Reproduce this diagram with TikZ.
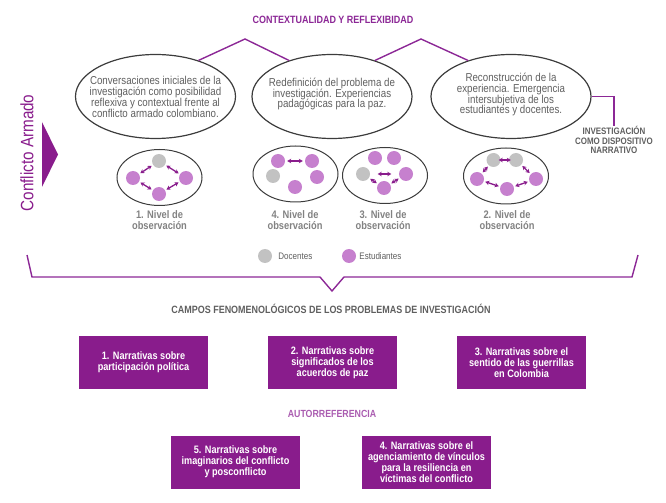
\documentclass[tikz,border=0pt]{standalone}
\usepackage{fontspec}
\setmainfont{Liberation Sans}[FakeStretch=0.85]
\usepackage{tikz}
\usetikzlibrary{shapes,arrows.meta,positioning}
\definecolor{morado}{RGB}{137,28,140}
\definecolor{enlace}{RGB}{140,40,150}
\definecolor{lila}{RGB}{198,128,206}
\definecolor{gris}{RGB}{194,194,194}
\definecolor{borde}{RGB}{60,60,60}
\definecolor{grisosc}{RGB}{95,95,95}
\definecolor{grisniv}{RGB}{130,130,130}
\definecolor{autorref}{RGB}{170,92,176}
\tikzset{every node/.style={inner sep=0pt},
  burbuja/.style={ellipse,draw=borde,line width=1.2bp,minimum width=160bp,minimum height=84bp},
  texto/.style={text=grisosc,align=center,font=\fontsize{11.5}{11}\selectfont},
  nivel/.style={ellipse,draw=borde,line width=1bp,minimum width=85bp,minimum height=56bp},
  etiq/.style={text=grisniv,align=center,font=\bfseries\fontsize{11}{11}\selectfont},
  doc/.style={circle,fill=gris,minimum size=14bp},
  est/.style={circle,fill=lila,minimum size=14bp},
  flecha/.style={{Stealth[length=4bp,width=4.5bp]}-{Stealth[length=4bp,width=4.5bp]},morado,line width=1.3bp,shorten <=1.5bp,shorten >=1.5bp},
  enl/.style={draw=enlace,line width=1.4bp},
  caja/.style={fill=morado,text=white,minimum width=129bp,minimum height=53bp,align=center,font=\bfseries\fontsize{10.8}{11}\selectfont},
  leyenda/.style={text=grisosc,font=\fontsize{9.5}{10}\selectfont}}
\begin{document}
\begin{tikzpicture}[x=1bp,y=-1bp]
    \useasboundingbox (0,0) rectangle (666,503);
    \node[text=enlace,font=\bfseries\fontsize{10.6}{11}\selectfont] (ctx) at (333,20) {CONTEXTUALIDAD Y REFLEXIBIDAD};
    % fases
    \node[burbuja] (e1) at (155.5,96.5) {};
    \node[burbuja] (e2) at (332,96.5) {};
    \node[burbuja] (e3) at (511,96.5) {};
    \node[texto] (t1) at (e1) {Conversaciones iniciales de la\\investigación como posibilidad\\reflexiva y contextual frente al\\conflicto armado colombiano.};
    \node[texto] (t2) at (332,94) {Redefinición del problema de\\investigación. Experiencias\\padagógicas para la paz.};
    \node[texto] (t3) at (511,94.5) {Reconstrucción de la\\experiencia. Emergencia\\intersubjetiva de los\\estudiantes y docentes.};
    \coordinate (p1) at (245,39);
    \coordinate (p2) at (421,39);
    \draw[enl] (e1.40) -- (p1) -- (e2.140);
    \draw[enl] (e2.40) -- (p2) -- (e3.140);
    \node[text=grisosc,align=center,font=\bfseries\fontsize{9.4}{9.8}\selectfont] (nar) at (614,140) {INVESTIGACIÓN\\COMO DISPOSITIVO\\NARRATIVO};
    \draw[enl] (e3.east) -| (nar.north);
    % conflicto armado
    \node[rotate=90,text=morado,font=\fontsize{18}{18}\selectfont] (ca) at (27,153) {Conflicto Armado};
    \fill[morado] (42,122) -- (58,154.5) -- (42,187) -- cycle;
    % niveles de observacion
    \node[nivel] (o1) at (159.5,177.5) {};
    \node[nivel] (o4) at (295.5,174) {};
    \node[nivel] (o3) at (385,175.5) {};
    \node[nivel] (o2) at (506,176) {};
    \node[etiq,below=4bp of o1] (n1) {1. Nivel de\\observación};
    \node[etiq] (n4) at (295,220.5) {4. Nivel de\\observación};
    \node[etiq] (n3) at (383,220.5) {3. Nivel de\\observación};
    \node[etiq] (n2) at (507,220.5) {2. Nivel de\\observación};
    \node[doc] (a1) at (159,161) {};
    \node[est] (a2) at (133,178) {};
    \node[est] (a3) at (186,178) {};
    \node[est] (a4) at (159,194) {};
    \node[est] (b1) at (278,161) {};
    \node[est] (b2) at (312,161) {};
    \node[doc] (b3) at (273,176) {};
    \node[est] (b4) at (317,177) {};
    \node[est] (b5) at (295,187) {};
    \node[est] (c1) at (375,158) {};
    \node[est] (c2) at (394,158) {};
    \node[doc] (c3) at (363,174) {};
    \node[est] (c4) at (406,174) {};
    \node[est] (c5) at (384,188) {};
    \node[doc] (d1) at (493.5,160) {};
    \node[doc] (d2) at (516,160) {};
    \node[est] (d3) at (477,179) {};
    \node[est] (d4) at (536,179) {};
    \node[est] (d5) at (507,189) {};
    \path[flecha]
    (a2) edge (a1)
    (a1) edge (a3)
    (a2) edge (a4)
    (a4) edge (a3)
    (b1) edge[shorten <=2bp,shorten >=2bp] (b2)
    (c3) edge[shorten <=7.5bp,shorten >=7.5bp] (c4)
    (c3) edge (c5)
    (c5) edge (c4)
    (d1) edge[shorten <=-2bp,shorten >=-2bp] (d2)
    (d3) edge (d1)
    (d2) edge (d4)
    (d3) edge (d5)
    (d5) edge (d4)
    ;
    % leyenda
    \node[doc] (ld) at (265,256) {};
    \node[leyenda,right=6bp of ld] (ldt) {Docentes};
    \node[est] (le) at (349,256) {};
    \node[leyenda,right=3bp of le] (let) {Estudiantes};
    \draw[enl] (27,255) -- (32,277) -- (320,277) -- (332,291) -- (344,277) -- (632,277) -- (638,255);
    % campos
    \node[text=grisosc,font=\bfseries\fontsize{10.6}{11}\selectfont] (cf) at (331,309) {CAMPOS FENOMENOLÓGICOS DE LOS PROBLEMAS DE INVESTIGACIÓN};
    \node[caja] (k1) at (143.5,362.5) {1. Narrativas sobre\\participación política};
    \node[caja] (k2) at (332.5,362.5) {2. Narrativas sobre\\significados de los\\acuerdos de paz};
    \node[caja] (k3) at (521.5,362.5) {3. Narrativas sobre el\\sentido de las guerrillas\\en Colombia};
    \node[text=autorref,font=\bfseries\fontsize{10.4}{11}\selectfont] (ar) at (332,414) {AUTORREFERENCIA};
    \node[caja] (k5) at (235.5,462) {5. Narrativas sobre\\imaginarios del conflicto\\y posconflicto};
    \node[caja] (k4) at (426.5,462) {4. Narrativas sobre el\\agenciamiento de vínculos\\para la resiliencia en\\víctimas del conflicto};
\end{tikzpicture}
\end{document}
